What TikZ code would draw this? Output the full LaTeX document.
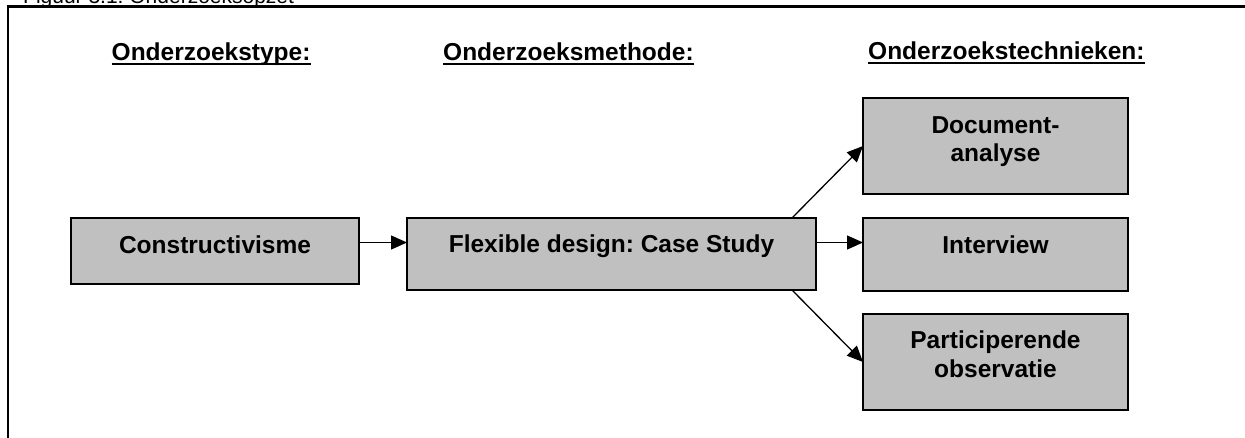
\documentclass[tikz,border=0pt]{standalone}
\usepackage{fontspec}
\setmainfont{Liberation Sans}
\usetikzlibrary{arrows.meta}
\definecolor{boxgray}{HTML}{C0C0C0}
\frenchspacing
\tikzset{
  stagebox/.style={draw=black, line width=1.5pt, fill=boxgray, rectangle,
    inner sep=0pt, outer sep=0pt},
  boxtext/.style={font=\fontsize{24.5}{28.4}\selectfont\bfseries, align=center,
    inner sep=0pt, anchor=base},
  heading/.style={font=\fontsize{24.5}{28}\selectfont\bfseries, inner sep=0pt,
    anchor=base west},
  headrule/.style={line width=2pt},
  flow/.style={line width=1.3pt, -{Triangle[length=16pt,width=14pt]}},
  frameline/.style={line width=2.2pt}
}
\begin{document}
\begin{tikzpicture}[x=1pt, y=-1pt]
  \useasboundingbox (0,0) rectangle (1245,437);
  \clip (0,0) rectangle (1245,437);

  % caption above the frame (only its lower part lies on the page)
  \node[font=\fontsize{21}{24}\selectfont, inner sep=0pt, anchor=base west]
    (caption) at (23,3.3) {Figuur 3.1: Onderzoeksopzet};

  % frame: top and left edges
  \coordinate (fcorner) at (8,6.5);
  \coordinate (fright) at (1250,6.5);
  \coordinate (fbottom) at (8,440);
  \draw[frameline] (fright) -- (fcorner) -- (fbottom);

  % column headings
  \node[heading] (htype) at (111.5,60) {Onderzoekstype:};
  \node[heading] (hmeth) at (443,60) {Onderzoeksmethode:};
  \node[heading] (htech) at (868,59.5) {Onderzoekstechnieken:};
  \foreach \h in {htype,hmeth,htech}
    \draw[headrule] ([yshift=-3.6pt]\h.base west) -- ([yshift=-3.6pt]\h.base east);

  % boxes
  \node[stagebox, minimum width=288pt, minimum height=66pt] (con) at (215,251) {};
  \node[stagebox, minimum width=409pt, minimum height=72pt] (flex) at (611.5,254) {};
  \node[stagebox, minimum width=265pt, minimum height=96pt] (doc) at (995.5,146) {};
  \node[stagebox, minimum width=265pt, minimum height=73pt] (int) at (995.5,254.5) {};
  \node[stagebox, minimum width=265pt, minimum height=96pt] (part) at (995.5,362) {};

  % box texts, set from the top of each box (base = last line)
  \node[boxtext] (tcon) at ([yshift=-35pt]con.north) {Constructivisme};
  \node[boxtext] (tflex) at ([yshift=-34.7pt]flex.north) {Flexible design: Case Study};
  \node[boxtext] (tdoc) at ([yshift=-63.7pt]doc.north) {Document-\\analyse};
  \node[boxtext] (tint) at ([yshift=-35.3pt]int.north) {Interview};
  \node[boxtext] (tpart) at ([yshift=-63.3pt]part.north) {Participerende\\observatie};

  % connectors
  \draw[flow] ([yshift=-24.5pt]con.north east) -- ([yshift=-24.5pt]flex.north west);
  \draw[flow] ([yshift=-24.5pt]flex.north east) -- ([yshift=-24.5pt]int.north west);
  \draw[flow] ([xshift=-24pt]flex.north east) -- (doc.west);
  \draw[flow] ([xshift=-24pt]flex.south east) -- (part.west);
\end{tikzpicture}
\end{document}
